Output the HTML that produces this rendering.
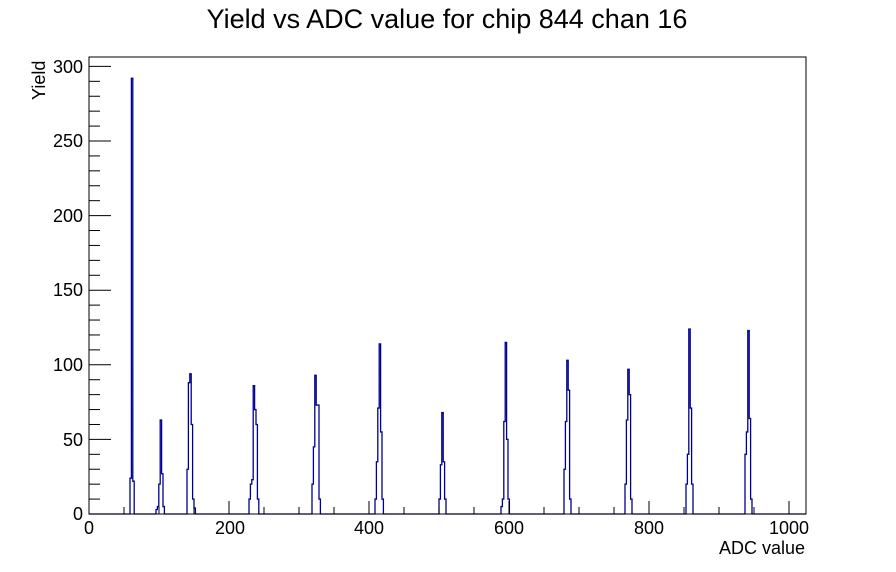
<!DOCTYPE html>
<html><head><meta charset="utf-8"><style>
body{margin:0;background:#fff;}
svg{display:block;font-family:"Liberation Sans",sans-serif;}
</style></head><body>
<svg id="s" width="896" height="572" xmlns="http://www.w3.org/2000/svg">
<rect width="896" height="572" fill="#fff"/>
<text x="447" y="28" font-size="27" text-anchor="middle">Yield vs ADC value for chip 844 chan 16</text>
<path id="h" fill="none" stroke="#000090" stroke-width="1.3"/>
<rect x="89" y="57" width="717" height="457" fill="none" stroke="#000" stroke-width="1"/>
<g id="ticks" stroke="#000" stroke-width="1"></g>
<g font-size="18" text-anchor="middle">
<text x="89" y="534">0</text><text x="230" y="534">200</text><text x="369" y="534">400</text>
<text x="509" y="534">600</text><text x="649" y="534">800</text><text x="789" y="534">1000</text>
</g>
<g font-size="18" text-anchor="end">
<text x="83" y="520">0</text><text x="83" y="446">50</text><text x="83" y="371">100</text>
<text x="83" y="296">150</text><text x="83" y="222">200</text><text x="83" y="147">250</text><text x="83" y="73">300</text>
</g>
<text x="805" y="554" font-size="18" text-anchor="end">ADC value</text>
<text transform="translate(45,100) rotate(-90)" font-size="18">Yield</text>
</svg>
<script>
var t='';
for(var v=0;v<=1020;v+=50){var x=89+v*0.7;var L=(v%200==0)?13:7;t+='<line x1="'+x+'" y1="514" x2="'+x+'" y2="'+(514-L)+'"/>';}
for(var v=0;v<=300;v+=10){var y=514-v*1.492;var L=(v%50==0)?22:11;t+='<line x1="89" y1="'+y+'" x2="'+(89+L)+'" y2="'+y+'"/>';}
document.getElementById('ticks').innerHTML=t;
var peaks=[[130,[24,292,22]],[156,[3,5,20,63,27,5]],[187,[30,88,94,60,10,4]],[249,[10,20,23,86,70,60,10]],[312,[20,45,93,73,73,10]],[375,[10,35,71,114,55,10]],[439,[10,33,68,35,10]],[501,[5,10,62,115,50,10]],[564,[30,62,103,83,10]],[625,[20,63,97,80,10]],[686,[20,40,124,71,20]],[745,[40,55,123,64,10]]];
var d='M89,514';
peaks.forEach(function(p){var x=p[0];d+=' L'+x+',514';p[1].forEach(function(v){var y=514-v*1.492;d+=' L'+x+','+y;x+=1.4;d+=' L'+x+','+y;});d+=' L'+x+',514';});
d+=' L806,514';
document.getElementById('h').setAttribute('d',d);
</script>
</body></html>
